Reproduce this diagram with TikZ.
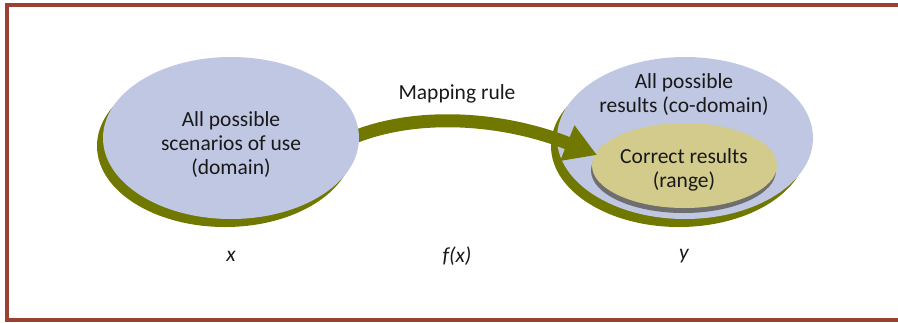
\documentclass[tikz,border=0pt]{standalone}
\usepackage{fontspec}
\setmainfont{Carlito}
\usetikzlibrary{arrows.meta,shapes.geometric,calc}
\definecolor{framered}{RGB}{155,65,50}
\definecolor{setblue}{RGB}{192,199,227}
\definecolor{olivegreen}{RGB}{112,120,0}
\definecolor{rangetan}{RGB}{210,203,139}
\definecolor{rimgray}{RGB}{110,110,110}
\pgfdeclarelayer{back}
\pgfsetlayers{back,main}
\tikzset{
  label text/.style={font=\fontsize{21.5}{24}\selectfont, align=center, text=black!90},
  var text/.style={font=\fontsize{21.5}{24}\selectfont\itshape, text=black!90},
  bigset/.style={ellipse, fill=setblue, minimum width=256pt, minimum height=162pt, inner sep=0pt},
  setshadow/.style={ellipse, fill=olivegreen, minimum width=256pt, minimum height=162pt, inner sep=0pt},
  rangeset/.style={ellipse, fill=rangetan, minimum width=185pt, minimum height=85pt, inner sep=0pt},
  rangerim/.style={ellipse, fill=rimgray, minimum width=185pt, minimum height=85pt, inner sep=0pt},
  maparrow/.style={draw=olivegreen, line width=13pt, -{Triangle[length=32pt,width=36pt]}},
}
\begin{document}
\begin{tikzpicture}[x=1pt,y=-1pt]
\useasboundingbox (0,0) rectangle (898,322);
\clip (0,0) rectangle (898,322);
% frame
\draw[framered, line width=4pt] (7,5) rectangle (910,320);

% domain set
\node[setshadow] (domainshadow) at (225,146) {};
\node[bigset] (domain) at (231,138) {};
\node[label text] (domaintext) at (231,145) {All possible\\scenarios of use\\(domain)};

\begin{pgfonlayer}{back}
  % co-domain set with the range inside
  \node[setshadow] (codomainshadow) at (679,146) {};
  \node[bigset] (codomain) at (685,138) {};
  \node[rangerim] (rangerimnode) at (683.5,170.5) {};
  \node[rangeset] (range) at (684.5,165.5) {};
  \coordinate (tip) at (597,155);
  % mapping rule arrow
  \draw[maparrow] ($(domain.east)+(-12,2)$) .. controls (415,110) and (505,118) .. (tip);
\end{pgfonlayer}

\node[label text] (codomaintext) at (684,95) {All possible\\results (co-domain)};
\node[label text] (rangetext) at (684,170) {Correct results\\(range)};
\node[label text] (ruletext) at (457,94) {Mapping rule};

\node[var text] (xvar) at (231,256) {x};
\node[var text] (fvar) at (457,256) {f(x)};
\node[var text] (yvar) at (684,256) {y};
\end{tikzpicture}
\end{document}
